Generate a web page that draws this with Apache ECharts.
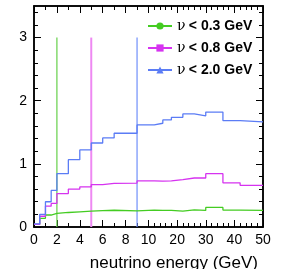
<!DOCTYPE html>
<html><head><meta charset="utf-8">
<script src="https://cdn.jsdelivr.net/npm/echarts@6/dist/echarts.min.js"></script>
<style>html,body{margin:0;padding:0;background:#fff}#c{width:291px;height:269px}</style>
</head><body><div id="c"></div>
<script>
// bin edges in GeV
const binEdges = [0,0.5,1,1.5,2,3,4,5,6,7,9,12,15,18,22,26,30,36,42,50];
const nuLt03 = [0.04,0.137,0.19,0.215,0.23,0.24,0.25,0.26,0.265,0.255,0.268,0.263,0.263,0.252,0.272,0.263,0.31,0.268,0.263];
const nuLt08 = [0.04,0.17,0.33,0.373,0.53,0.6,0.635,0.67,0.69,0.695,0.73,0.725,0.73,0.75,0.776,0.776,0.845,0.70,0.66];
const nuLt20 = [0.05,0.2,0.4,0.58,0.845,1.066,1.22,1.33,1.41,1.485,1.617,1.643,1.696,1.737,1.79,1.76,1.82,1.685,1.665];
const cutLines = [2,5,9];
const cutTop = 3;
const xTickLabels = [0,2,4,6,8,10,20,30,40,50];
const xMinorTicks = [1,3,5,7,9,12,14,16,18,22,24,26,28,32,34,36,38,42,44,46,48];
const yTickLabels = [0,1,2,3];
const yMinorTicks = [0.2,0.4,0.6,0.8,1.2,1.4,1.6,1.8,2.2,2.4,2.6,2.8,3.2,3.4];
const names = ['ν < 0.3 GeV','ν < 0.8 GeV','ν < 2.0 GeV'];
const colors = ['#44cc22','#d633f0','#5b7cf5'];
const cutColors = ['#66d04a','#ee88f2','#6f8ffa'];

// piecewise energy scale: linear 0-10, compressed x4 above 10
function u(E){return E<=10?E:10+(E-10)/4;}
function uInv(v){return v<=10?v:10+(v-10)*4;}
function steps(vals){const d=[];vals.forEach((v,i)=>{d.push([u(binEdges[i]),v]);d.push([u(binEdges[i+1]),v]);});return d;}

const black = '#000';
function xAx(pos, ticks, len, labels){
  return {type:'value', position:pos, min:0, max:20, splitLine:{show:false},
    axisLine:{show:true, onZero:false, lineStyle:{color:black, width:1.5}},
    axisTick:{show:true, inside:true, length:len, customValues:ticks.map(u), lineStyle:{color:black,width:1}},
    axisLabel:{show:labels, customValues:ticks.map(u), formatter:v=>String(Math.round(uInv(v))), color:black, fontSize:14, fontFamily:'Liberation Sans', margin:6}};
}
function yAx(pos, ticks, len, labels){
  return {type:'value', position:pos, min:0, max:3.5, splitLine:{show:false},
    axisLine:{show:true, onZero:false, lineStyle:{color:black, width:1.5}},
    axisTick:{show:true, inside:true, length:len, customValues:ticks, lineStyle:{color:black,width:1}},
    axisLabel:{show:labels, customValues:ticks, color:black, fontSize:14, fontFamily:'Liberation Sans', margin:7}};
}
const symbols = ['circle','rect','triangle'];
const series = [];
cutLines.forEach((c,i)=>{
  series.push({type:'line', name:'cut'+i, data:[[u(c),0],[u(c),cutTop]], symbol:'none', silent:true,
    lineStyle:{color:cutColors[i], width:i===1?2:1.2}, z:1});
});
[nuLt03,nuLt08,nuLt20].forEach((vals,i)=>{
  series.push({type:'line', name:names[i], data:steps(vals), symbol:symbols[i], symbolSize:9, showSymbol:false,
    itemStyle:{color:colors[i]}, lineStyle:{color:colors[i], width:1.3}, z:2});
});
const chart = echarts.init(document.getElementById('c'));
chart.setOption({
  animation:false,
  grid:{left:34, right:28, top:6, bottom:42},
  xAxis:[xAx('bottom',xTickLabels,7,true), xAx('bottom',xMinorTicks,4,false), xAx('top',xTickLabels,7,false), xAx('top',xMinorTicks,4,false)],
  yAxis:[yAx('left',yTickLabels,7,true), yAx('left',yMinorTicks,4,false), yAx('right',yTickLabels,7,false), yAx('right',yMinorTicks,4,false)],
  legend:{data:names, orient:'vertical', left:142, top:14, itemWidth:24, itemHeight:9, itemGap:8,
    formatter:n=>'{n|ν} {b|'+n.slice(2)+'}',
    textStyle:{rich:{n:{fontFamily:'DejaVu Serif', fontSize:14, color:black}, b:{fontFamily:'Liberation Sans', fontWeight:'bold', fontSize:14, color:black}}}},
  title:{text:'neutrino energy (GeV)', right:28, top:250, textStyle:{fontFamily:'Liberation Sans', fontWeight:'normal', fontSize:17, color:black}},
  series:series
});
</script></body></html>
